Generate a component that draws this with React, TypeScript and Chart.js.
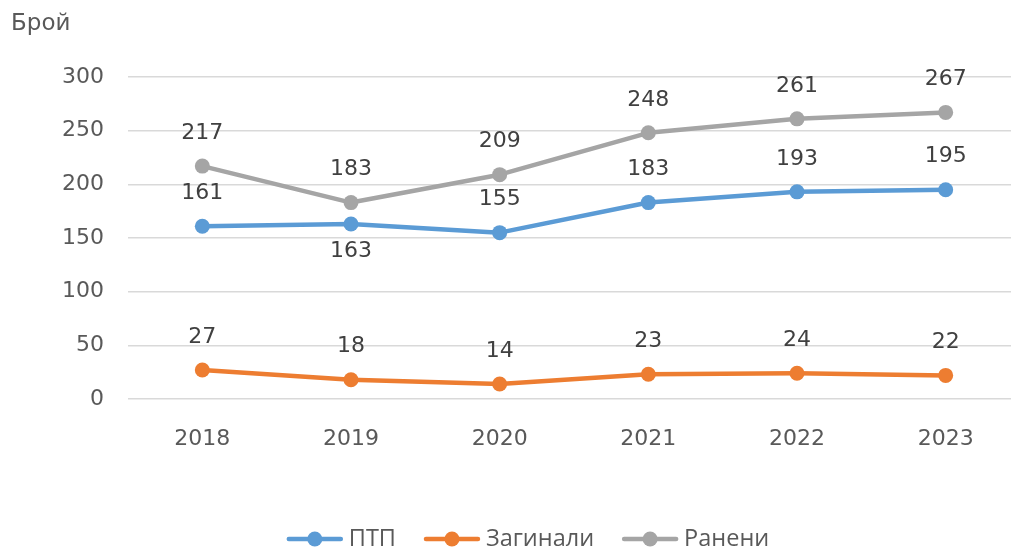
import React, { useEffect, useRef } from "react";
import { Chart, registerables } from "chart.js";

Chart.register(...registerables);

const categories = ["2018", "2019", "2020", "2021", "2022", "2023"];
const seriesNames = ["ПТП", "Загинали", "Ранени"];
const ptpValues = [161, 163, 155, 183, 193, 195];
const killedValues = [27, 18, 14, 23, 24, 22];
const injuredValues = [217, 183, 209, 248, 261, 267];
const seriesColors = ["#5B9BD5", "#ED7D31", "#A5A5A5"];
// labels placed below the point: [datasetIndex, pointIndex]
const labelsBelow = [[0, 1]];
const yMin = 0;
const yMax = 300;
const yStep = 50;
const yTitle = "Брой";

const CANVAS_W = 1056;
const CANVAS_H = 548;
const NUM_FAMILY = '"DejaVu Sans", Verdana, sans-serif';
const NUM_FONT = '22px ' + NUM_FAMILY;
const LEGEND_FONT = '23.5px "Open Sans", "Noto Sans", sans-serif';

const labelPlugin = {
  id: "valueLabels",
  afterDatasetsDraw(chart: any) {
    const ctx = chart.ctx;
    ctx.save();
    ctx.font = NUM_FONT;
    ctx.fillStyle = "#404040";
    ctx.textAlign = "center";
    ctx.textBaseline = "middle";
    chart.data.datasets.forEach((ds: any, di: number) => {
      const meta = chart.getDatasetMeta(di);
      meta.data.forEach((pt: any, i: number) => {
        const below = labelsBelow.some((b) => b[0] === di && b[1] === i);
        const y = below ? pt.y + 27 : pt.y - 33;
        ctx.fillText(String(ds.data[i]), pt.x, y);
      });
    });
    ctx.restore();
  },
};

const titleLegendPlugin = {
  id: "titleLegend",
  afterDraw(chart: any) {
    const ctx = chart.ctx;
    ctx.save();
    // axis title
    ctx.font = '23px ' + NUM_FAMILY;
    ctx.fillStyle = "#595959";
    ctx.textAlign = "left";
    ctx.textBaseline = "middle";
    ctx.fillText(yTitle, 11, 24);
    // legend
    ctx.font = LEGEND_FONT;
    const symW = 56;
    const gapText = 6;
    const gapItem = 28;
    const widths = seriesNames.map((n) => ctx.measureText(n).width);
    const total =
      widths.reduce((a, w) => a + symW + gapText + w, 0) + gapItem * (seriesNames.length - 1);
    let x = CANVAS_W / 2 - total / 2;
    const y = 539;
    seriesNames.forEach((name, i) => {
      ctx.strokeStyle = seriesColors[i];
      ctx.fillStyle = seriesColors[i];
      ctx.lineWidth = 4.5;
      ctx.lineCap = "round";
      ctx.beginPath();
      ctx.moveTo(x + 2, y);
      ctx.lineTo(x + symW - 2, y);
      ctx.stroke();
      ctx.beginPath();
      ctx.arc(x + symW / 2, y, 7.5, 0, Math.PI * 2);
      ctx.fill();
      ctx.fillStyle = "#595959";
      ctx.textAlign = "left";
      ctx.textBaseline = "middle";
      ctx.fillText(name, x + symW + gapText, y);
      x += symW + gapText + widths[i] + gapItem;
    });
    ctx.restore();
  },
};

export default function App() {
  const ref = useRef<HTMLCanvasElement | null>(null);
  useEffect(() => {
    if (!ref.current) return;
    const values = [ptpValues, killedValues, injuredValues];
    const chart = new Chart(ref.current, {
      type: "line",
      data: {
        labels: categories,
        datasets: seriesNames.map((name, i) => ({
          label: name,
          data: values[i],
          borderColor: seriesColors[i],
          backgroundColor: seriesColors[i],
          borderWidth: 4.5,
          borderCapStyle: "round",
          borderJoinStyle: "round",
          pointRadius: 7.5,
          pointHoverRadius: 7.5,
          pointBorderWidth: 0,
          pointBackgroundColor: seriesColors[i],
          tension: 0,
          fill: false,
        })),
      },
      options: {
        animation: false,
        responsive: false,
        maintainAspectRatio: false,
        devicePixelRatio: 1,
        layout: { padding: { top: 77, left: 0, right: 36, bottom: 0 } },
        plugins: {
          legend: { display: false },
          tooltip: { enabled: false },
          title: { display: false },
        },
        scales: {
          x: {
            type: "category",
            offset: true,
            grid: { display: false },
            border: { display: false },
            ticks: {
              font: { family: NUM_FAMILY, size: 22 },
              color: "#595959",
              padding: 19,
              maxRotation: 0,
            },
            afterFit(scale: any) {
              scale.height = 149;
            },
          },
          y: {
            min: yMin,
            max: yMax,
            ticks: {
              stepSize: yStep,
              font: { family: NUM_FAMILY, size: 22 },
              color: "#595959",
              padding: 24,
            },
            grid: { color: "#D9D9D9", lineWidth: 1.5, drawTicks: false },
            border: { display: false },
            afterFit(scale: any) {
              scale.width = 128;
            },
          },
        },
      },
      plugins: [labelPlugin, titleLegendPlugin],
    } as any);
    return () => chart.destroy();
  }, []);

  return (
    <div
      style={{
        position: "fixed",
        left: 0,
        top: 0,
        width: 1011,
        height: 548,
        overflow: "hidden",
        background: "#fff",
      }}
    >
      <canvas
        ref={ref}
        width={CANVAS_W}
        height={CANVAS_H}
        style={{ width: CANVAS_W, height: CANVAS_H, display: "block" }}
      />
    </div>
  );
}
